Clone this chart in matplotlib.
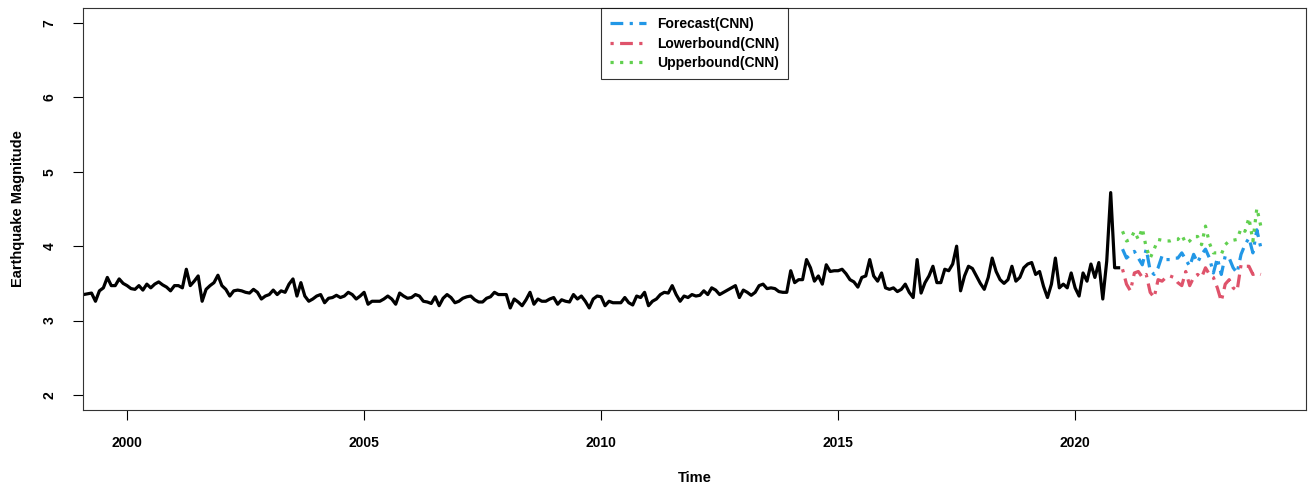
import matplotlib.pyplot as plt
import numpy as np

plt.rcParams['font.family'] = ['Liberation Sans', 'DejaVu Sans']
plt.rcParams['font.weight'] = 'bold'

# monthly mean magnitude, Jan 1999 .. Dec 2020
observed = [
    3.35, 3.35, 3.36, 3.37, 3.26, 3.40, 3.44, 3.58, 3.47, 3.47, 3.56, 3.50,
    3.47, 3.43, 3.42, 3.47, 3.41, 3.49, 3.44, 3.49, 3.52, 3.48, 3.45, 3.40,
    3.47, 3.47, 3.44, 3.69, 3.47, 3.53, 3.60, 3.26, 3.42, 3.47, 3.51, 3.61,
    3.47, 3.42, 3.33, 3.40, 3.41, 3.40, 3.38, 3.37, 3.42, 3.38, 3.29, 3.33,
    3.35, 3.41, 3.35, 3.40, 3.38, 3.49, 3.56, 3.33, 3.51, 3.33, 3.26, 3.29,
    3.33, 3.35, 3.24, 3.30, 3.31, 3.34, 3.31, 3.33, 3.38, 3.35, 3.29, 3.33,
    3.38, 3.22, 3.26, 3.26, 3.26, 3.29, 3.33, 3.29, 3.22, 3.37, 3.33, 3.30,
    3.31, 3.35, 3.33, 3.26, 3.25, 3.23, 3.32, 3.20, 3.30, 3.35, 3.31, 3.24,
    3.26, 3.30, 3.32, 3.33, 3.28, 3.25, 3.25, 3.30, 3.32, 3.38, 3.35, 3.35,
    3.35, 3.17, 3.29, 3.25, 3.20, 3.28, 3.38, 3.22, 3.29, 3.26, 3.26, 3.29,
    3.31, 3.22, 3.28, 3.26, 3.25, 3.35, 3.29, 3.33, 3.26, 3.17, 3.29, 3.33,
    3.32, 3.20, 3.26, 3.24, 3.24, 3.24, 3.31, 3.24, 3.21, 3.33, 3.31, 3.38,
    3.20, 3.26, 3.29, 3.35, 3.38, 3.37, 3.47, 3.35, 3.26, 3.33, 3.31, 3.35,
    3.33, 3.34, 3.40, 3.35, 3.44, 3.41, 3.35, 3.38, 3.41, 3.44, 3.47, 3.31,
    3.41, 3.38, 3.34, 3.38, 3.47, 3.49, 3.43, 3.44, 3.43, 3.39, 3.38, 3.38,
    3.67, 3.51, 3.55, 3.55, 3.82, 3.71, 3.53, 3.60, 3.49, 3.75, 3.66, 3.67,
    3.67, 3.69, 3.63, 3.55, 3.52, 3.45, 3.58, 3.60, 3.82, 3.60, 3.53, 3.64,
    3.44, 3.42, 3.44, 3.39, 3.42, 3.49, 3.38, 3.31, 3.82, 3.37, 3.51, 3.60,
    3.73, 3.51, 3.51, 3.69, 3.67, 3.76, 4.00, 3.40, 3.60, 3.73, 3.70, 3.60,
    3.50, 3.42, 3.58, 3.84, 3.66, 3.55, 3.50, 3.55, 3.73, 3.53, 3.58, 3.71,
    3.76, 3.78, 3.62, 3.66, 3.46, 3.31, 3.49, 3.84, 3.44, 3.49, 3.44, 3.64,
    3.44, 3.33, 3.64, 3.53, 3.76, 3.58, 3.78, 3.29, 3.80, 4.72, 3.71, 3.71,
]

# CNN forecast with bounds, Jan 2021 .. Dec 2023
forecast = [
    3.96, 3.84, 3.89, 3.93, 3.84, 3.75, 3.96, 3.67, 3.62, 3.71, 3.87, 3.82,
    3.82, 3.84, 3.84, 3.91, 3.82, 3.73, 3.89, 3.78, 3.89, 3.96, 3.84, 3.64,
    3.84, 3.62, 3.87, 3.84, 3.71, 3.64, 3.89, 4.02, 4.11, 3.91, 4.22, 3.98,
]
lower = [
    3.69, 3.49, 3.40, 3.64, 3.66, 3.58, 3.62, 3.38, 3.31, 3.55, 3.53, 3.58,
    3.60, 3.58, 3.51, 3.47, 3.66, 3.47, 3.58, 3.62, 3.58, 3.71, 3.62, 3.58,
    3.44, 3.26, 3.49, 3.55, 3.44, 3.40, 3.75, 3.73, 3.73, 3.62, 3.64, 3.62,
]
upper = [
    4.20, 4.07, 4.09, 4.20, 4.09, 4.24, 3.98, 3.84, 3.96, 4.09, 4.08, 4.07,
    4.07, 4.09, 4.09, 4.15, 4.04, 4.07, 4.13, 4.13, 4.02, 4.27, 4.04, 3.91,
    3.91, 3.89, 4.02, 4.07, 4.08, 4.09, 4.24, 4.20, 4.38, 4.07, 4.51, 4.27,
]

obs_time = 1999 + np.arange(len(observed)) / 12
fc_time = 2021 + np.arange(len(forecast)) / 12

fig = plt.figure(figsize=(13.09, 4.88), dpi=100)
ax = fig.add_axes([0.0634, 0.160, 0.9343, 0.8236])

ax.plot(obs_time, observed, color='black', linewidth=2.3)
ax.plot(fc_time, forecast, color='#2297E6', linewidth=2.3,
        linestyle=(0, (4, 2, 1, 2)), label='Forecast(CNN)')
ax.plot(fc_time, lower, color='#DF536B', linewidth=2.3,
        linestyle=(0, (1, 2, 4, 2)), label='Lowerbound(CNN)')
ax.plot(fc_time, upper, color='#61D04F', linewidth=2.3,
        linestyle=(0, (1, 2)), label='Upperbound(CNN)')

ax.set_xlim(1999.07, 2024.87)
ax.set_ylim(1.8, 7.2)
ax.set_xticks([2000, 2005, 2010, 2015, 2020])
ax.set_yticks([2, 3, 4, 5, 6, 7])
ax.tick_params(axis='x', length=7, width=0.8, pad=12, labelsize=10)
ax.tick_params(axis='y', length=7, width=0.8, pad=12, labelsize=10, labelrotation=90)
for lab in ax.get_yticklabels():
    lab.set_verticalalignment('center')
for sp in ax.spines.values():
    sp.set_linewidth(0.8)
    sp.set_color('#333333')

ax.set_xlabel('Time', fontsize=10.5, fontweight='bold', labelpad=15)
ax.set_ylabel('Earthquake Magnitude', fontsize=10.5, fontweight='bold', labelpad=13)

leg = ax.legend(loc='upper center', bbox_to_anchor=(0.5, 1.0), fontsize=10,
                frameon=True, fancybox=False, edgecolor='black',
                handlelength=2.6, borderpad=0.65, labelspacing=0.4, borderaxespad=0)
leg.get_frame().set_linewidth(0.8)
for t in leg.get_texts():
    t.set_fontweight('bold')

fig.savefig('out.png', dpi=100)
